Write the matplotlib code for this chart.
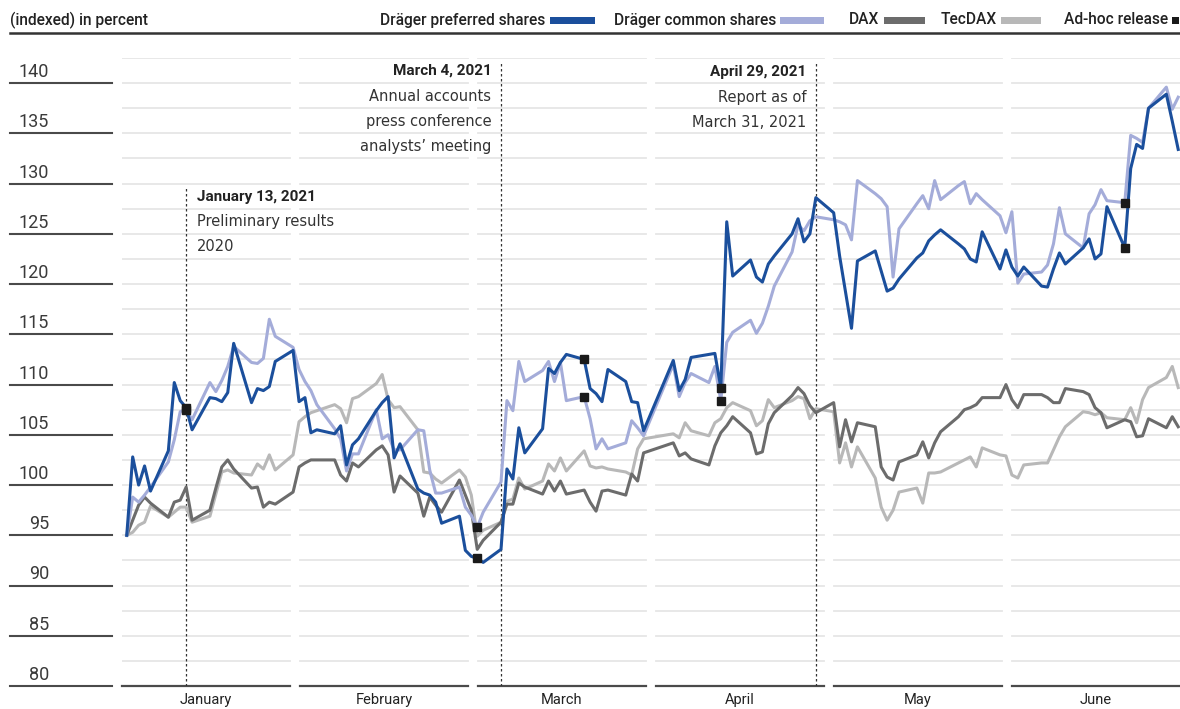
import matplotlib
matplotlib.use("Agg")
import matplotlib.pyplot as plt
import matplotlib.transforms as mtransforms
from matplotlib.lines import Line2D
from matplotlib.patches import Rectangle
import numpy as np
import pandas as pd

plt.rcParams['font.family'] = ['Roboto', 'DejaVu Sans']

# trading days (Xetra), Easter closed
holidays = ['2021-04-02', '2021-04-05']
days = pd.bdate_range('2021-01-04', '2021-06-30')
days = days[~days.isin(pd.to_datetime(holidays))]

months = ['January', 'February', 'March', 'April', 'May', 'June']

# indexed values (one row per month)
pref = [95.0, 102.8, 100.0, 101.9, 99.4, 103.4, 110.2, 108.4, 107.7, 105.5, 108.7, 108.6, 108.3, 109.2, 114.1, 108.2, 109.6, 109.4, 109.8, 112.3,
        113.4, 108.3, 108.7, 105.2, 105.5, 105.1, 105.9, 102.0, 104.0, 104.6, 107.4, 108.2, 108.8, 102.7, 104.1, 99.6, 99.2, 99.0, 98.3, 96.2,
        96.9, 93.5, 92.9, 92.7, 92.3, 93.6, 101.6, 100.6, 105.7, 103.2, 105.6, 111.6, 111.1, 112.2, 113.0, 112.5, 109.6, 109.1, 108.3, 111.5, 110.3, 108.3, 108.2,
        105.4, 112.4, 109.4, 110.5, 112.7, 113.0, 113.1, 109.7, 126.2, 120.8, 122.4, 120.7, 120.2, 122.0, 122.8, 125.0, 126.5, 124.2, 125.0, 128.6,
        127.1, 122.8, 119.2, 115.6, 122.3, 123.3, 121.3, 119.3, 119.6, 120.5, 122.6, 123.1, 124.3, 124.9, 125.4, 124.0, 123.5, 122.5, 122.2, 125.2, 121.5,
        123.4, 121.7, 120.8, 121.7, 119.8, 119.7, 121.5, 123.1, 122.0, 123.6, 124.5, 122.5, 123.0, 127.7, 123.6, 131.5, 133.9, 133.5, 137.5, 138.9, 136.2, 133.4]

common = [95.0, 98.8, 98.3, 99.0, 99.8, 102.3, 104.5, 107.3, 107.5, 106.5, 110.2, 109.3, 110.4, 111.8, 113.8, 112.2, 112.1, 112.6, 116.5, 114.8,
          113.7, 111.5, 110.3, 109.4, 108.0, 105.6, 104.6, 101.4, 103.1, 103.1, 107.5, 104.6, 105.0, 103.5, 103.5, 105.5, 105.4, 101.5, 99.2, 99.2,
          99.8, 97.8, 97.0, 95.8, 97.3, 100.3, 108.4, 107.4, 112.3, 110.3, 111.4, 112.3, 110.3, 112.2, 108.4, 108.8, 106.6, 103.6, 104.6, 103.6, 104.2, 106.4, 105.7,
          104.9, 112.0, 108.8, 110.2, 111.1, 110.2, 111.8, 108.4, 114.2, 115.2, 116.4, 115.1, 116.1, 117.8, 119.8, 123.2, 125.9, 125.3, 126.3, 126.7,
          126.4, 126.2, 125.9, 124.4, 130.3, 129.0, 128.5, 127.7, 120.7, 125.5, 128.0, 128.8, 127.5, 130.3, 128.4, 129.8, 130.2, 128.0, 129.0, 128.4, 126.8,
          125.1, 127.2, 120.1, 121.0, 121.2, 121.9, 124.0, 127.6, 125.0, 123.6, 127.0, 127.9, 129.4, 128.3, 128.1, 134.8, 134.5, 134.1, 137.5, 139.6, 137.4, 138.6]

dax = [95.0, 96.5, 98.0, 98.8, 98.2, 96.8, 98.3, 98.5, 99.8, 96.5, 97.5, 99.7, 101.8, 102.5, 101.6, 99.7, 99.8, 97.8, 98.3, 98.1,
       99.3, 101.8, 102.2, 102.5, 102.5, 102.5, 101.0, 100.4, 102.2, 101.8, 103.5, 103.9, 103.0, 99.3, 100.9, 99.2, 96.9, 98.8, 98.0, 97.3,
       100.5, 99.0, 97.5, 93.6, 94.5, 96.3, 98.1, 98.1, 100.2, 99.8, 99.1, 100.4, 99.4, 100.4, 99.1, 99.5, 98.3, 97.4, 99.4, 99.5, 99.0, 101.1, 100.4,
       103.2, 104.2, 102.9, 103.2, 102.6, 102.0, 103.9, 105.2, 105.9, 106.8, 105.2, 103.1, 103.3, 106.1, 107.2, 108.9, 109.7, 109.1, 107.9, 107.2,
       108.2, 103.8, 106.5, 104.3, 106.2, 105.8, 101.8, 100.8, 100.5, 102.3, 103.0, 104.3, 102.7, 104.2, 105.3, 106.8, 107.5, 107.7, 108.0, 108.7, 108.7,
       110.0, 108.5, 107.7, 109.0, 109.0, 108.7, 108.2, 108.2, 109.6, 109.3, 109.0, 107.7, 107.2, 105.7, 106.5, 106.3, 104.8, 104.9, 106.6, 105.7, 106.8, 105.8]

tecdax = [95.0, 95.3, 96.0, 96.3, 97.9, 96.8, 97.3, 97.8, 97.8, 96.3, 96.9, 99.1, 101.3, 101.5, 101.2, 101.0, 102.1, 101.6, 103.0, 101.5,
          103.0, 106.3, 106.8, 107.2, 107.4, 108.0, 107.6, 106.2, 108.6, 108.8, 110.1, 111.0, 108.5, 107.7, 107.8, 105.5, 101.3, 101.2, 100.6, 100.2,
          101.5, 100.8, 99.0, 94.9, 95.5, 96.3, 98.4, 98.6, 100.7, 99.6, 100.4, 102.1, 101.4, 102.7, 101.4, 103.4, 101.9, 101.7, 101.8, 101.6, 101.3, 101.0, 103.6,
          104.6, 105.1, 104.7, 106.2, 105.4, 104.9, 106.2, 106.6, 107.7, 108.2, 107.4, 105.9, 106.4, 108.5, 107.7, 108.4, 108.8, 108.6, 106.6, 107.6,
          107.3, 102.2, 104.2, 101.8, 103.8, 100.7, 97.8, 96.5, 97.5, 99.3, 99.7, 98.2, 101.2, 101.2, 101.3, 102.2, 102.5, 102.8, 101.8, 103.7, 103.0,
          102.9, 101.0, 100.7, 102.0, 102.2, 102.2, 103.5, 104.8, 105.8, 107.3, 107.2, 107.0, 107.2, 106.7, 106.5, 107.7, 106.2, 108.5, 109.7, 110.7, 111.8, 109.7]

adhoc_dates = ['2021-01-14', '2021-03-04', '2021-03-22', '2021-04-14', '2021-06-21']

# dashed event lines: (line date, title, text lines, text side)
events = [
    ('2021-01-14', 'January 13, 2021', ['Preliminary results', '2020'], 'right'),
    ('2021-03-08', 'March 4, 2021', ['Annual accounts', 'press conference', "analysts\u2019 meeting"], 'left'),
    ('2021-04-30', 'April 29, 2021', ['Report as of', 'March 31, 2021'], 'left'),
]
event_tops = [129.6, 142.2, 142.2]
event_text_y = [128.7, 141.2, 141.1]

c_pref = '#1b4f9c'
c_common = '#a4acd9'
c_dax = '#6c6c6c'
c_tec = '#b8b8b8'

W, H = 1180, 709
fig = plt.figure(figsize=(W / 100, H / 100), dpi=100)
ax = fig.add_axes([122 / W, 23 / H, 1058 / W, 628 / H])
ax.set_xlim(pd.Timestamp('2021-01-01') + pd.Timedelta(days=2.2),
            pd.Timestamp('2021-01-01') + pd.Timedelta(days=180.3))
ax.set_ylim(80, 142.5)
ax.axis('off')

# month panels with broken grid
gap = 10 / 1058
pw = (1 - gap * (len(months) - 1)) / len(months)
for k, m in enumerate(months):
    a = k * (pw + gap)
    for v in np.arange(82.5, 142.6, 2.5):
        ax.axhline(v, xmin=a, xmax=a + pw, color='#e6e6e6', lw=1.3, zorder=0)
    ax.axhline(80, xmin=a, xmax=a + pw, color='#4a4a4a', lw=1.6, zorder=1, clip_on=False)
    ax.text(a + pw / 2, -0.023, m, transform=ax.transAxes, ha='center', va='center',
            fontsize=10.5, color='#222222')

# y labels with underlines on the left
blend = mtransforms.blended_transform_factory(fig.transFigure, ax.transData)
for v in range(80, 141, 5):
    ax.plot([10 / W, 112 / W], [v, v], transform=blend, color='#4a4a4a', lw=1.5, clip_on=False)
    ax.text(49 / W, v + 0.6, str(v), transform=blend, ha='right', va='baseline',
            fontsize=13, color='#3a3a3a')

ax.plot(days, tecdax, color=c_tec, lw=2.2, zorder=2)
ax.plot(days, dax, color=c_dax, lw=2.2, zorder=3)
ax.plot(days, common, color=c_common, lw=2.2, zorder=4)
ax.plot(days, pref, color=c_pref, lw=2.2, zorder=5)

s_pref = pd.Series(pref, index=days)
s_common = pd.Series(common, index=days)
ad = pd.to_datetime(adhoc_dates)
ax.plot(ad, s_pref[ad].values, 's', color='#1a1a1a', ms=6, zorder=6)
ax.plot(ad, s_common[ad].values, 's', color='#1a1a1a', ms=6, zorder=6)

for (d, title, lines, side), top, ty in zip(events, event_tops, event_text_y):
    d = pd.Timestamp(d)
    ax.plot([d, d], [80, top], color='#333333', lw=0.9, ls=(0, (2, 2)), zorder=1)
    dx = 8 if side == 'right' else -7
    ha = 'left' if side == 'right' else 'right'
    ax.annotate(title, xy=(d, ty), xytext=(dx, 0), textcoords='offset points',
                ha=ha, va='center', fontsize=11, fontweight='bold', color='#222222')
    for i, t in enumerate(lines):
        ax.annotate(t, xy=(d, ty - 2.5 * (i + 1)), xytext=(dx, 0), textcoords='offset points',
                    ha=ha, va='center', fontsize=10.5, color='#333333', family=['DejaVu Sans'])

# header
fig.add_artist(Line2D([10 / W, 1.0], [1 - 33 / H, 1 - 33 / H], color='#333333', lw=1.8))
yh = 1 - 20 / H
fig.text(10 / W, yh, '(indexed) in percent', ha='left', va='center', fontsize=11.2,
         fontweight='medium', color='#222222')

legend = [('Dr\u00e4ger preferred shares', c_pref, 545, 550, 595),
          ('Dr\u00e4ger common shares', c_common, 776, 780, 824),
          ('DAX', c_dax, 879, 884, 925),
          ('TecDAX', c_tec, 997, 1001, 1041),
          ('Ad-hoc release', '#1a1a1a', 1168, 1172, 1179)]
for label, col, tx, x0, x1 in legend:
    fig.text(tx / W, yh, label, ha='right', va='center', fontsize=11.2,
             fontweight='medium', color='#222222')
    fig.add_artist(Rectangle((x0 / W, 1 - 24 / H), (x1 - x0) / W, 7 / H,
                             transform=fig.transFigure, color=col, lw=0))

fig.savefig('out.png', dpi=100)
